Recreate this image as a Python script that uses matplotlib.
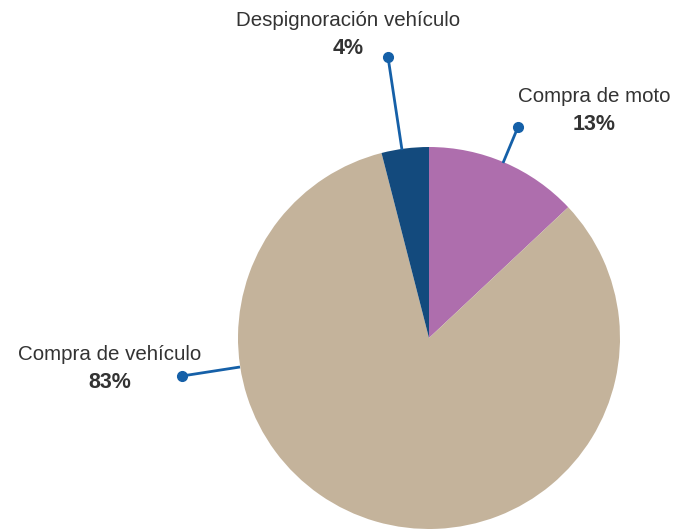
import matplotlib
matplotlib.use("Agg")
import matplotlib.pyplot as plt
from matplotlib import font_manager

names = {f.name for f in font_manager.fontManager.ttflist}
fam = "Liberation Sans Narrow" if "Liberation Sans Narrow" in names else "Liberation Sans"

categories = ["Compra de moto", "Compra de vehículo", "Despignoración vehículo"]
values = [13, 83, 4]
pct_labels = ["13%", "83%", "4%"]
colors = ["#AE6EAD", "#C4B39B", "#134A7D"]

W, H = 674, 529
fig = plt.figure(figsize=(W / 100, H / 100), dpi=100)
ax = fig.add_axes([0, 0, 1, 1])

cx, cy, r = 429, H - 338, 191
ax.pie(values, colors=colors, startangle=90, counterclock=False,
       center=(cx, cy), radius=r, frame=True,
       wedgeprops=dict(linewidth=0))
ax.set_xlim(0, W)
ax.set_ylim(0, H)
ax.set_aspect("equal")
ax.axis("off")

line_c = "#1560A8"
txt_c = "#333333"
# leader lines: (edge point, dot point)
leaders = [((503, 163), (518, 127)), ((240, 367), (182, 376)), ((402, 150), (388, 57))]
for (p1, p2) in leaders:
    ax.plot([p1[0], p2[0]], [H - p1[1], H - p2[1]], color=line_c, lw=2, solid_capstyle="butt")
    ax.plot(p2[0], H - p2[1], "o", color=line_c, ms=7)

label_pos = [(594, 97, 125), (110, 355, 383), (348, 20, 48)]
for name, pct, (x, y1, y2) in zip(categories, pct_labels, label_pos):
    ax.text(x, H - y1, name, ha="center", va="center", fontsize=14.8, color=txt_c, family=fam)
    ax.text(x, H - y2, pct, ha="center", va="center", fontsize=15.5, color=txt_c, family=fam, fontweight="bold")

fig.savefig("out.png", dpi=100)
